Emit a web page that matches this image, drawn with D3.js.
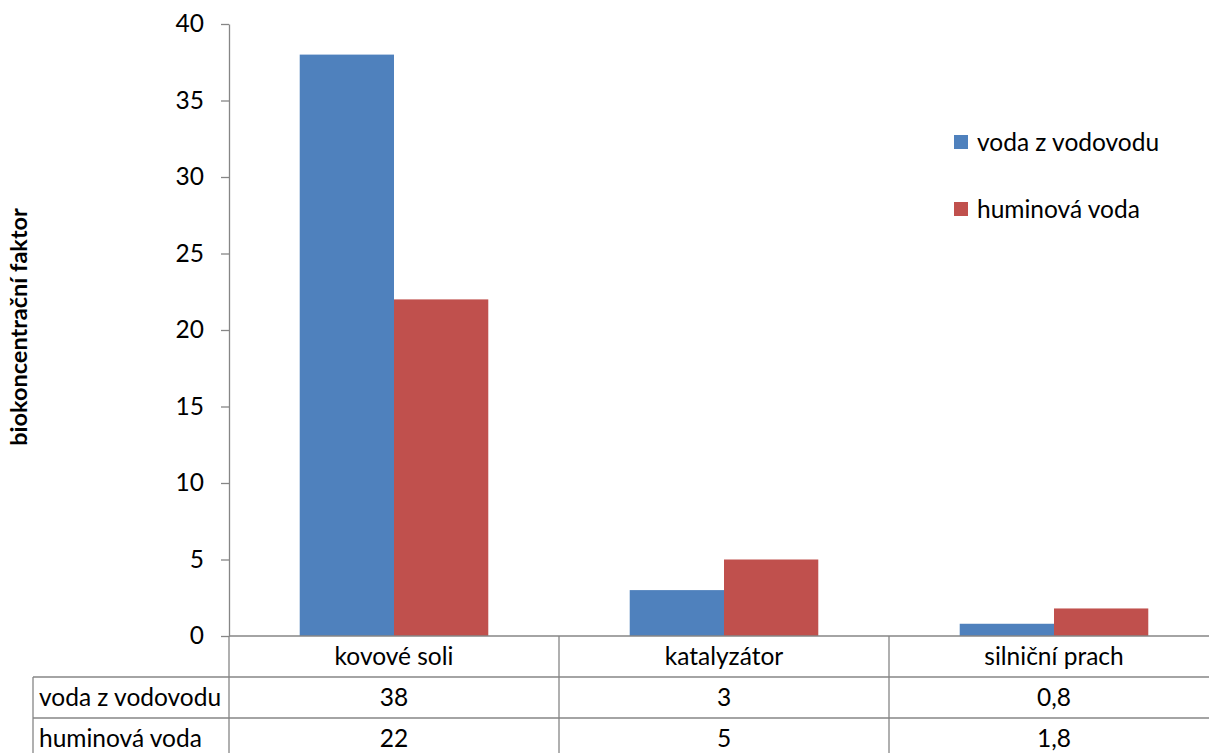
<!DOCTYPE html>
<html>
<head>
<meta charset="utf-8">
<script src="https://cdn.jsdelivr.net/npm/d3@7"></script>
<style>
  html, body { margin: 0; padding: 0; background: #fff; }
  svg { display: block; font-family: Lato, "Noto Sans", sans-serif; }
</style>
</head>
<body>
<svg id="chart" width="1209" height="753"></svg>
<script>
const categories = ["kovové soli", "katalyzátor", "silniční prach"];
const seriesNames = ["voda z vodovodu", "huminová voda"];
const vodaZVodovodu = [38, 3, 0.8];
const huminovaVoda = [22, 5, 1.8];
const yTicks = [0, 5, 10, 15, 20, 25, 30, 35, 40];
const seriesColors = ["#4F81BD", "#C0504D"];

const seriesValues = [vodaZVodovodu, huminovaVoda];

const plot = { left: 229, right: 1219, top: 24, bottom: 636 };
const rowH = 41;
const tableLeft = 33;
const lineColor = "#868686";
const fontSize = 24.5;

const czech = d3.formatLocale({ decimal: ",", thousands: " ", grouping: [3], currency: ["", ""] });
const fmt = czech.format("~g");

const svg = d3.select("#chart");

const y = d3.scaleLinear().domain([0, 40]).range([plot.bottom, plot.top]);

const x0 = d3.scaleBand()
  .domain(categories)
  .range([plot.left, plot.right])
  .padding(0);

// gap width 150 % like the office chart: bar = band / 3.5
const barW = x0.bandwidth() / 3.5;
const x1 = d3.scaleBand()
  .domain(seriesNames)
  .range([barW * 0.75, x0.bandwidth() - barW * 0.75])
  .padding(0);

// bars
const groups = svg.append("g")
  .selectAll("g")
  .data(categories)
  .join("g")
  .attr("transform", d => `translate(${x0(d)},0)`);

groups.selectAll("rect")
  .data((d, i) => seriesNames.map((s, j) => ({ s, v: seriesValues[j][i], c: seriesColors[j] })))
  .join("rect")
  .attr("x", d => x1(d.s))
  .attr("width", x1.bandwidth())
  .attr("y", d => y(d.v))
  .attr("height", d => y(0) - y(d.v))
  .attr("fill", d => d.c);

// y axis
const yAxis = svg.append("g")
  .attr("transform", `translate(${plot.left},0)`)
  .call(d3.axisLeft(y).tickValues(yTicks).tickSize(8).tickPadding(17).tickSizeOuter(0));

yAxis.select(".domain").attr("stroke", lineColor).attr("stroke-width", 1.3);
yAxis.selectAll(".tick line").attr("stroke", lineColor).attr("stroke-width", 1.3);
yAxis.selectAll(".tick text")
  .attr("fill", "#000")
  .attr("font-size", fontSize)
  .attr("font-family", "Lato, 'Noto Sans', sans-serif");

// y title
svg.append("text")
  .attr("transform", `translate(27,327) rotate(-90)`)
  .attr("text-anchor", "middle")
  .attr("font-weight", "bold")
  .attr("font-size", 23.5)
  .text("biokoncentrační faktor");

// data table
const table = svg.append("g")
  .attr("stroke", lineColor)
  .attr("stroke-width", 1.3)
  .attr("fill", "none");

const bottomT = plot.bottom + rowH * 3;

table.append("line")
  .attr("x1", plot.left).attr("x2", plot.right)
  .attr("y1", plot.bottom).attr("y2", plot.bottom);

[1, 2, 3].forEach(r => {
  table.append("line")
    .attr("x1", tableLeft).attr("x2", plot.right)
    .attr("y1", plot.bottom + rowH * r).attr("y2", plot.bottom + rowH * r);
});

table.append("line")
  .attr("x1", plot.left).attr("x2", plot.left)
  .attr("y1", plot.bottom).attr("y2", bottomT);

table.append("line")
  .attr("x1", tableLeft).attr("x2", tableLeft)
  .attr("y1", plot.bottom + rowH).attr("y2", bottomT);

categories.forEach(c => {
  table.append("line")
    .attr("x1", x0(c) + x0.bandwidth()).attr("x2", x0(c) + x0.bandwidth())
    .attr("y1", plot.bottom).attr("y2", bottomT);
});

const texts = svg.append("g").attr("font-size", fontSize).attr("fill", "#000");

texts.selectAll(".cat")
  .data(categories)
  .join("text")
  .attr("x", d => x0(d) + x0.bandwidth() / 2)
  .attr("y", plot.bottom + rowH / 2)
  .attr("dy", "0.35em")
  .attr("text-anchor", "middle")
  .text(d => d);

seriesNames.forEach((s, j) => {
  const cy = plot.bottom + rowH * (j + 1) + rowH / 2;
  texts.append("text")
    .attr("x", tableLeft + 6)
    .attr("y", cy)
    .attr("dy", "0.35em")
    .text(s);
  categories.forEach((c, i) => {
    texts.append("text")
      .attr("x", x0(c) + x0.bandwidth() / 2)
      .attr("y", cy)
      .attr("dy", "0.35em")
      .attr("text-anchor", "middle")
      .text(fmt(seriesValues[j][i]));
  });
});

// legend
const legend = svg.append("g").attr("transform", "translate(954,0)");
seriesNames.forEach((s, j) => {
  const cy = 142 + j * 67;
  legend.append("rect")
    .attr("x", 0).attr("y", cy - 7)
    .attr("width", 14).attr("height", 14)
    .attr("fill", seriesColors[j]);
  legend.append("text")
    .attr("x", 23).attr("y", cy)
    .attr("dy", "0.35em")
    .attr("font-size", fontSize)
    .text(s);
});
</script>
</body>
</html>
